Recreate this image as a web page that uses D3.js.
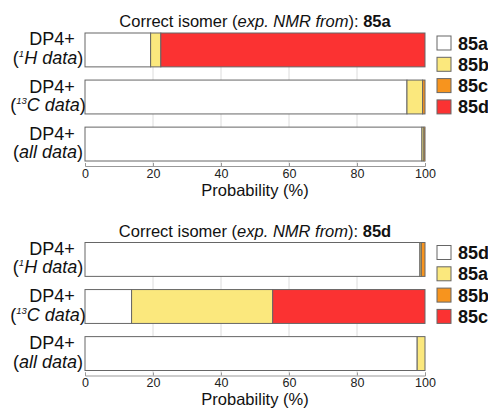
<!DOCTYPE html>
<html>
<head>
<meta charset="utf-8">
<script src="https://cdn.jsdelivr.net/npm/d3@7"></script>
<style>
  html, body { margin: 0; padding: 0; background: #fff; }
  svg { display: block; font-family: "Liberation Sans", Arial, sans-serif; }
</style>
</head>
<body>
<svg id="chart" width="488" height="409"></svg>
<script>
// ---- data ----
const rowKeys = ["1H", "13C", "all"];
const ticks = [0, 20, 40, 60, 80, 100];
const colors = ["#ffffff", "#fbe87d", "#f7941e", "#fb3232"];

const topIsomer = "85a";
const topSeries = ["85a", "85b", "85c", "85d"];
const topValues = [
  [19.3, 3.0, 0.0, 77.7],
  [94.7, 4.6, 0.7, 0.0],
  [99.1, 0.6, 0.3, 0.0]
];

const bottomIsomer = "85d";
const bottomSeries = ["85d", "85a", "85b", "85c"];
const bottomValues = [
  [98.5, 0.4, 1.1, 0.0],
  [13.7, 41.5, 0.0, 44.8],
  [97.7, 2.3, 0.0, 0.0]
];

// ---- drawing ----
const svg = d3.select("#chart");
const x = d3.scaleLinear().domain([0, 100]).range([85, 425]);

function drawPanel(offY, isomer, series, values, labelY) {
  const g = svg.append("g").attr("transform", `translate(0,${offY})`);
  const y = d3.scaleBand().domain(rowKeys).range([33, 161]).paddingInner(0.28).paddingOuter(0);

  // title
  const t = g.append("text").attr("x", 255).attr("y", 27).attr("text-anchor", "middle")
    .attr("font-size", 16.5).attr("fill", "#111");
  t.append("tspan").text("Correct isomer (");
  t.append("tspan").attr("font-style", "italic").text("exp. NMR from");
  t.append("tspan").text("): ");
  t.append("tspan").attr("font-weight", "bold").text(isomer);

  // gridlines
  g.append("g").selectAll("line").data(ticks.filter(d => d > 0 && d < 100)).join("line")
    .attr("x1", d => x(d)).attr("x2", d => x(d))
    .attr("y1", 33).attr("y2", 166)
    .attr("stroke", "#dcdcdc").attr("stroke-width", 1);

  // axis
  const axis = d3.axisBottom(x).tickValues(ticks).tickSize(-3).tickPadding(3).tickFormat(d3.format("d"));
  const ax = g.append("g").attr("transform", "translate(0,166)").call(axis);
  ax.select(".domain").attr("stroke", "#999");
  ax.selectAll(".tick line").attr("stroke", "#999");
  ax.selectAll(".tick text").attr("font-size", 12.5).attr("fill", "#222")
    .attr("font-family", "Liberation Sans, Arial, sans-serif");

  // axis label
  g.append("text").attr("x", 255).attr("y", labelY).attr("text-anchor", "middle")
    .attr("font-size", 16.5).attr("fill", "#111").text("Probability (%)");

  // stacked bars
  const rows = rowKeys.map((k, i) => {
    const o = { key: k };
    series.forEach((s, j) => o[s] = values[i][j]);
    return o;
  });
  const stacked = d3.stack().keys(series)(rows);
  const color = d3.scaleOrdinal().domain(series).range(colors);

  g.append("g").selectAll("g").data(stacked).join("g")
    .attr("fill", d => color(d.key))
    .selectAll("rect").data(d => d.filter(p => p[1] - p[0] > 0)).join("rect")
    .attr("x", p => x(p[0]))
    .attr("width", p => x(p[1]) - x(p[0]))
    .attr("y", p => y(p.data.key))
    .attr("height", y.bandwidth())
    .attr("stroke", "#666").attr("stroke-width", 1);

  // row labels
  rowKeys.forEach(k => {
    const cy = y(k) + y.bandwidth() / 2;
    g.append("text").attr("x", 52).attr("y", cy - 4.5).attr("text-anchor", "middle")
      .attr("font-size", 18).attr("fill", "#111").text("DP4+");
    const tt = g.append("text").attr("x", 48).attr("y", cy + 14).attr("text-anchor", "middle")
      .attr("font-size", 18).attr("fill", "#111");
    tt.append("tspan").text("(");
    if (k === "all") {
      tt.append("tspan").attr("font-style", "italic").text("all data");
    } else {
      const num = k.replace(/[A-Z]/g, "");
      const el = k.replace(/[0-9]/g, "");
      tt.append("tspan").attr("font-style", "italic").attr("font-size", 9.5).attr("dy", -7).text(num);
      tt.append("tspan").attr("font-style", "italic").attr("dy", 7).text(el + " data");
    }
    tt.append("tspan").text(")");
  });

  // legend
  const lg = g.append("g").selectAll("g").data(series).join("g")
    .attr("transform", (d, i) => `translate(437,${36 + i * 21.3})`);
  lg.append("rect").attr("width", 14).attr("height", 14)
    .attr("fill", d => color(d)).attr("stroke", "#666").attr("stroke-width", 1);
  lg.append("text").attr("x", 21).attr("y", 13.5).attr("font-size", 18).attr("font-weight", "bold")
    .attr("fill", "#111").text(d => d);
}

drawPanel(0, topIsomer, topSeries, topValues, 196);
drawPanel(209.5, bottomIsomer, bottomSeries, bottomValues, 195);
</script>
</body>
</html>
